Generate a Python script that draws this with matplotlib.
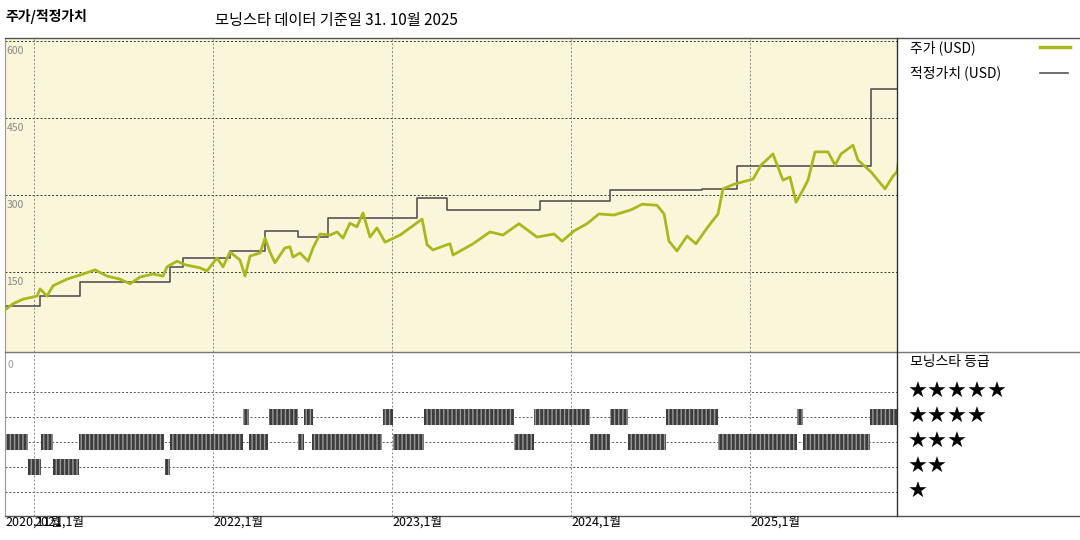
import matplotlib.pyplot as plt
from matplotlib.patches import Rectangle

plt.rcParams['font.family'] = ['Noto Sans CJK KR', 'DejaVu Sans']

# price (USD), time in decimal years
PRICE_T = [2020.838, 2020.883, 2020.939, 2021.017, 2021.034, 2021.073, 2021.106, 2021.184,
           2021.257, 2021.341, 2021.408, 2021.480, 2021.536, 2021.592, 2021.665, 2021.721,
           2021.743, 2021.799, 2021.844, 2021.927, 2021.966, 2022.022, 2022.056, 2022.095,
           2022.151, 2022.179, 2022.207, 2022.263, 2022.291, 2022.318, 2022.346, 2022.402,
           2022.430, 2022.447, 2022.486, 2022.531, 2022.559, 2022.598, 2022.654, 2022.693,
           2022.726, 2022.765, 2022.804, 2022.838, 2022.877, 2022.916, 2022.961, 2023.045,
           2023.101, 2023.168, 2023.196, 2023.229, 2023.307, 2023.324, 2023.341, 2023.453,
           2023.547, 2023.620, 2023.709, 2023.810, 2023.905, 2023.950, 2024.017, 2024.089,
           2024.156, 2024.240, 2024.335, 2024.397, 2024.480, 2024.520, 2024.547, 2024.592,
           2024.648, 2024.698, 2024.765, 2024.821, 2024.849, 2024.911, 2025.017, 2025.061,
           2025.128, 2025.184, 2025.223, 2025.257, 2025.296, 2025.324, 2025.363, 2025.436,
           2025.475, 2025.508, 2025.575, 2025.603, 2025.676, 2025.754, 2025.799, 2025.821,
           2025.832]
PRICE = [76, 88, 97, 103, 117, 103, 123, 136,
         144, 154, 142, 136, 127, 140, 146, 142,
         160, 171, 164, 158, 152, 177, 160, 189,
         173, 142, 181, 187, 216, 189, 168, 197,
         199, 179, 187, 171, 197, 224, 222, 228,
         216, 245, 238, 265, 218, 236, 208, 222,
         236, 253, 203, 193, 203, 205, 183, 205,
         228, 222, 244, 218, 224, 210, 230, 244,
         263, 261, 271, 282, 280, 263, 210, 191,
         220, 205, 238, 263, 312, 321, 331, 358,
         380, 329, 335, 286, 310, 329, 384, 384,
         358, 380, 397, 368, 345, 312, 337, 345,
         374]

# fair value steps (value holds from each date until the next)
FAIR_T = [2020.838, 2021.034, 2021.257, 2021.760, 2021.832, 2022.095, 2022.291, 2022.475,
          2022.642, 2023.140, 2023.307, 2023.827, 2024.218, 2024.732, 2024.927, 2025.676,
          2025.832]
FAIR = [84, 103, 130, 159, 177, 191, 230, 218,
        255, 294, 271, 288, 310, 312, 357, 506,
        506]

# morningstar rating periods: (start, end, stars)
RATING_START = [2020.827, 2020.966, 2021.039, 2021.106, 2021.251, 2021.732, 2021.760, 2022.168,
                2022.201, 2022.313, 2022.475, 2022.508, 2022.553, 2022.950, 2023.006, 2023.179,
                2023.682, 2023.793, 2024.106, 2024.218, 2024.318, 2024.531, 2024.821, 2025.263,
                2025.296, 2025.670]
RATING_END = [2020.966, 2021.039, 2021.106, 2021.251, 2021.726, 2021.760, 2022.168, 2022.201,
              2022.307, 2022.475, 2022.508, 2022.559, 2022.944, 2023.006, 2023.179, 2023.682,
              2023.793, 2024.106, 2024.218, 2024.318, 2024.531, 2024.821, 2025.263, 2025.296,
              2025.670, 2025.821]
RATING = [3, 2, 3, 2, 3, 2, 3, 4,
          3, 4, 3, 4, 3, 4, 3, 4,
          3, 4, 3, 4, 3, 4, 3, 4,
          3, 4]

YEAR_TICKS = [2021.0, 2022.0, 2023.0, 2024.0, 2025.0]
YEAR_LABELS = ["2021,1월", "2022,1월", "2023,1월", "2024,1월", "2025,1월"]
PRICE_TICKS = [150, 300, 450, 600]

X0, X1 = 2020.838, 2025.821
W, H = 1080, 540
GREEN = "#a9b81e"
GRAY = "#555555"

fig = plt.figure(figsize=(10.8, 5.4), dpi=100)


def box(l, t, r, b):
    return [l / W, 1 - b / H, (r - l) / W, (b - t) / H]


# ── price / fair value panel ────────────────────────────────────────────────
ax = fig.add_axes(box(5, 38, 897, 352))
ax.set_facecolor("#faf6d9")
ax.set_xlim(X0, X1)
ax.set_ylim(-6, 606)
for y in PRICE_TICKS:
    ax.axhline(y, color="#333333", lw=0.7, ls=(0, (2, 2)), zorder=1)
    ax.annotate(str(y), (0, y), xycoords=("axes fraction", "data"),
                xytext=(1, -7), textcoords="offset points", va="center",
                fontsize=7.5, color="#888888")
for x in YEAR_TICKS:
    ax.axvline(x, color="#888888", lw=0.7, ls=(0, (2, 2)), zorder=1)
ax.step(FAIR_T, FAIR, where="post", color=GRAY, lw=1.2, zorder=2)
ax.plot(PRICE_T, PRICE, color=GREEN, lw=2, zorder=3)
ax.set_xticks([])
ax.set_yticks([])
for s in ax.spines.values():
    s.set_visible(False)
ax.spines["left"].set_visible(True)
ax.spines["left"].set_color("#999999")

# ── rating panel ────────────────────────────────────────────────────────────
ax2 = fig.add_axes(box(5, 352, 897, 516))
ax2.set_xlim(X0, X1)
ax2.set_ylim(0.04, 6.6)
for y in range(1, 6):
    ax2.axhline(y, color="#555555", lw=0.7, ls=(0, (2, 2)), zorder=1)
for x in YEAR_TICKS:
    ax2.axvline(x, color="#888888", lw=0.7, ls=(0, (2, 2)), zorder=1)
for s, e, r in zip(RATING_START, RATING_END, RATING):
    ax2.add_patch(Rectangle((s, r - 0.32), e - s, 0.64, facecolor="#3c3c3c",
                            edgecolor="#9a9a9a", hatch="||||", lw=0, zorder=2))
ax2.text(0.003, 0.92, "0", transform=ax2.transAxes, fontsize=7.5,
         color="#999999", va="center")
ax2.set_xticks([])
ax2.set_yticks([])
for s in ax2.spines.values():
    s.set_visible(False)
ax2.spines["left"].set_visible(True)
ax2.spines["left"].set_color("#999999")

# x labels under the rating panel
fig.text(5 / W, 1 - 522 / H, "2020,11월", fontsize=9, va="center")
for x, lab in zip(YEAR_TICKS, YEAR_LABELS):
    px = 5 + (x - X0) / (X1 - X0) * 892
    fig.text(px / W, 1 - 522 / H, lab, fontsize=9, va="center")

# frame lines
for yy in (38, 352, 516):
    fig.add_artist(plt.Line2D([5 / W, 1], [1 - yy / H] * 2, color="#555555" if yy != 352 else "#777777", lw=1))
fig.add_artist(plt.Line2D([897 / W] * 2, [1 - 38 / H, 1 - 516 / H], color="#333333", lw=1))

# titles
fig.text(5 / W, 1 - 17 / H, "주가/적정가치", fontsize=10, fontweight="bold", va="center")
fig.text(215 / W, 1 - 20 / H, "모닝스타 데이터 기준일 31. 10월 2025", fontsize=11, va="center")

# legend panel
fig.text(910 / W, 1 - 48 / H, "주가 (USD)", fontsize=10, va="center")
fig.add_artist(plt.Line2D([1040 / W, 1070 / W], [1 - 47 / H] * 2, color=GREEN, lw=2.5))
fig.text(910 / W, 1 - 73 / H, "적정가치 (USD)", fontsize=10, va="center")
fig.add_artist(plt.Line2D([1040 / W, 1068 / W], [1 - 73 / H] * 2, color=GRAY, lw=1.2))
fig.text(910 / W, 1 - 362 / H, "모닝스타 등급", fontsize=10, va="center")
for i, n in enumerate([5, 4, 3, 2, 1]):
    fig.text(908 / W, 1 - (392 + 25 * i) / H, "★" * n, fontsize=16,
             family=["DejaVu Sans"], va="center")

fig.savefig("out.png", dpi=100)
